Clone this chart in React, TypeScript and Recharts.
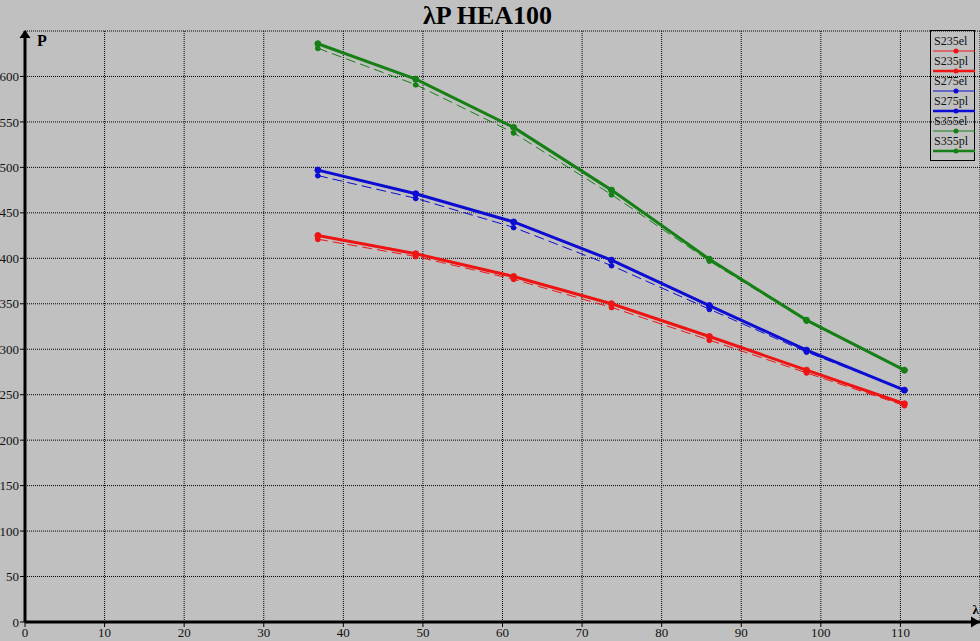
import React from 'react';
import { LineChart, Line, XAxis, YAxis, CartesianGrid } from 'recharts';

// slenderness values (x) and load values per steel grade
const lambda = [36.8, 49.1, 61.4, 73.7, 86.0, 98.2, 110.5];
const s235el = [421, 402, 377, 346, 310, 274, 238];
const s235pl = [425, 405, 380, 350, 314, 277, 240];
const s275el = [491, 466, 434, 392, 344, 297, 255];
const s275pl = [497, 471, 440, 398, 348, 299, 255];
const s355el = [631, 591, 538, 470, 397, 331, 277];
const s355pl = [636, 597, 544, 475, 399, 332, 277];

const xTicks = [0, 10, 20, 30, 40, 50, 60, 70, 80, 90, 100, 110];
const yTicks = [0, 50, 100, 150, 200, 250, 300, 350, 400, 450, 500, 550, 600];

const RED = '#ee1414';
const BLUE = '#0c0cd2';
const GREEN = '#168016';
const FONT = '"Liberation Serif", "DejaVu Serif", serif';

const series = [
    { key: 's235el', name: 'S235el', color: RED, values: s235el, plastic: false },
    { key: 's235pl', name: 'S235pl', color: RED, values: s235pl, plastic: true },
    { key: 's275el', name: 'S275el', color: BLUE, values: s275el, plastic: false },
    { key: 's275pl', name: 'S275pl', color: BLUE, values: s275pl, plastic: true },
    { key: 's355el', name: 'S355el', color: GREEN, values: s355el, plastic: false },
    { key: 's355pl', name: 'S355pl', color: GREEN, values: s355pl, plastic: true },
];

const chartData = lambda.map((l, i) => {
    const row: any = { lam: l };
    series.forEach(s => { row[s.key] = s.values[i]; });
    return row;
});

// arrow head + "P" on top of the y axis
const YAxisArrow = (props: any) => {
    const vb = props.viewBox || { x: 0, y: 31, width: 25, height: 591 };
    const ax = vb.x + vb.width;
    const top = vb.y;
    return (
        <g>
            <polygon points={`${ax},${top - 1} ${ax - 5.5},${top + 7} ${ax + 5.5},${top + 7}`} fill="#000" />
            <text x={ax + 12} y={top + 15} fontFamily={FONT} fontWeight="bold" fontSize={16} fill="#000">P</text>
        </g>
    );
};

// arrow head + "λ" at the end of the x axis
const XAxisArrow = (props: any) => {
    const vb = props.viewBox || { x: 25, y: 622, width: 955, height: 19 };
    const end = vb.x + vb.width;
    const ay = vb.y;
    return (
        <g>
            <polygon points={`${end},${ay} ${end - 9},${ay - 5.5} ${end - 9},${ay + 5.5}`} fill="#000" />
            <text x={end - 1} y={ay - 8} textAnchor="end" fontFamily={FONT} fontWeight="bold" fontSize={13} fill="#000">λ</text>
        </g>
    );
};

const App: React.FC = () => {
    return (
        <div style={{ position: 'absolute', left: 0, top: 0, width: 980, height: 641, background: '#c0c0c0', overflow: 'hidden' }}>
            <div style={{
                position: 'absolute', left: 0, top: 0, width: 975, textAlign: 'center',
                fontFamily: FONT, fontWeight: 'bold', fontSize: 26, lineHeight: '32px', color: '#000'
            }}>
                λP HEA100
            </div>

            <LineChart
                width={980}
                height={641}
                data={chartData}
                margin={{ top: 31, right: 0, left: 0, bottom: 0 }}
                style={{ position: 'absolute', left: 0, top: 0 }}
            >
                <CartesianGrid stroke="#000" strokeDasharray="1 1" strokeWidth={1} />
                <XAxis
                    dataKey="lam"
                    type="number"
                    domain={[0, 120]}
                    ticks={xTicks}
                    interval={0}
                    height={19}
                    tickSize={5}
                    tickMargin={1}
                    axisLine={{ stroke: '#000', strokeWidth: 3 }}
                    tickLine={{ stroke: '#000', strokeWidth: 1 }}
                    tick={{ fill: '#111', fontSize: 13, fontFamily: FONT }}
                    label={{ content: XAxisArrow }}
                />
                <YAxis
                    type="number"
                    domain={[0, 650]}
                    ticks={yTicks}
                    interval={0}
                    width={25}
                    tickSize={5}
                    tickMargin={1}
                    axisLine={{ stroke: '#000', strokeWidth: 3 }}
                    tickLine={{ stroke: '#000', strokeWidth: 1 }}
                    tick={{ fill: '#111', fontSize: 13, fontFamily: FONT }}
                    label={{ content: YAxisArrow }}
                />
                {series.map(s => (
                    <Line
                        key={s.key}
                        type="linear"
                        dataKey={s.key}
                        name={s.name}
                        stroke={s.color}
                        strokeWidth={s.plastic ? 3 : 1}
                        strokeDasharray={s.plastic ? undefined : '10 5'}
                        dot={{ r: s.plastic ? 3 : 2.5, fill: s.color, stroke: s.color, strokeWidth: 1 }}
                        activeDot={false}
                        isAnimationActive={false}
                    />
                ))}
            </LineChart>

            {/* legend box */}
            <div style={{
                position: 'absolute', left: 930, top: 30, width: 45, height: 131,
                border: '1px solid #000', boxSizing: 'border-box', paddingTop: 4
            }}>
                {series.map(s => (
                    <div key={s.key} style={{ height: 20, position: 'relative' }}>
                        <div style={{
                            position: 'absolute', left: 3, top: 0, fontFamily: FONT, fontSize: 12,
                            lineHeight: '13px', color: '#111'
                        }}>{s.name}</div>
                        <svg width={42} height={6} style={{ position: 'absolute', left: 2, top: 13 }}>
                            <line x1={0} y1={3} x2={42} y2={3} stroke={s.color} strokeWidth={s.plastic ? 2.5 : 1} />
                            <circle cx={23} cy={3} r={2.5} fill={s.color} />
                        </svg>
                    </div>
                ))}
            </div>
        </div>
    );
};

export default App;
